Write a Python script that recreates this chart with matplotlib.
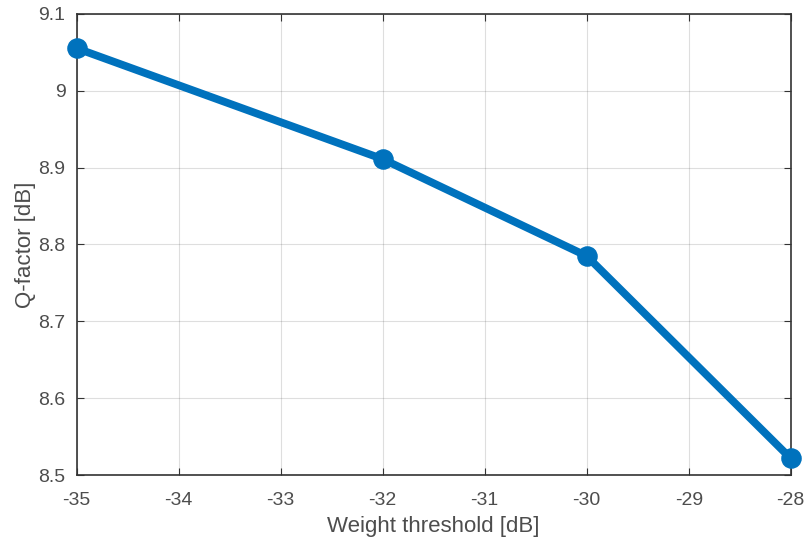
import numpy as np
import matplotlib.pyplot as plt

plt.rcParams['font.family'] = ['Liberation Sans', 'DejaVu Sans']
plt.rcParams['axes.unicode_minus'] = False

# data
threshold = [-35, -32, -30, -28]
qfactor = [9.055, 8.911, 8.785, 8.522]

x_ticks = [-35, -34, -33, -32, -31, -30, -29, -28]
y_ticks = [8.5, 8.6, 8.7, 8.8, 8.9, 9.0, 9.1]
y_ticklabels = ['8.5', '8.6', '8.7', '8.8', '8.9', '9', '9.1']

fig = plt.figure(figsize=(8.06, 5.48), dpi=100)
ax = fig.add_axes([0.0952, 0.1327, 0.981 - 0.0952, 0.975 - 0.1327])

ax.plot(threshold, qfactor, '-o', color='#0072BD', lw=5.6,
        markersize=13.8, clip_on=False, zorder=3)

ax.set_xlim(-35, -28)
ax.set_ylim(8.5, 9.1)
ax.set_xticks(x_ticks)
ax.set_yticks(y_ticks)
ax.set_yticklabels(y_ticklabels)
ax.grid(True, color='#262626', alpha=0.15, lw=0.8)
ax.set_axisbelow(True)

dark = '#4d4d4d'
for s in ax.spines.values():
    s.set_color('#333333')
    s.set_linewidth(1.2)
ax.tick_params(direction='in', length=5, top=True, right=True,
               colors='#333333', labelsize=14, pad=8)
ax.tick_params(axis='x', pad=12)
for lab in ax.get_xticklabels() + ax.get_yticklabels():
    lab.set_color(dark)

ax.set_xlabel('Weight threshold [dB]', fontsize=16, color=dark, labelpad=5)
ax.set_ylabel('Q-factor [dB]', fontsize=16, color=dark, labelpad=1.5)

fig.savefig('out.png', dpi=100)
